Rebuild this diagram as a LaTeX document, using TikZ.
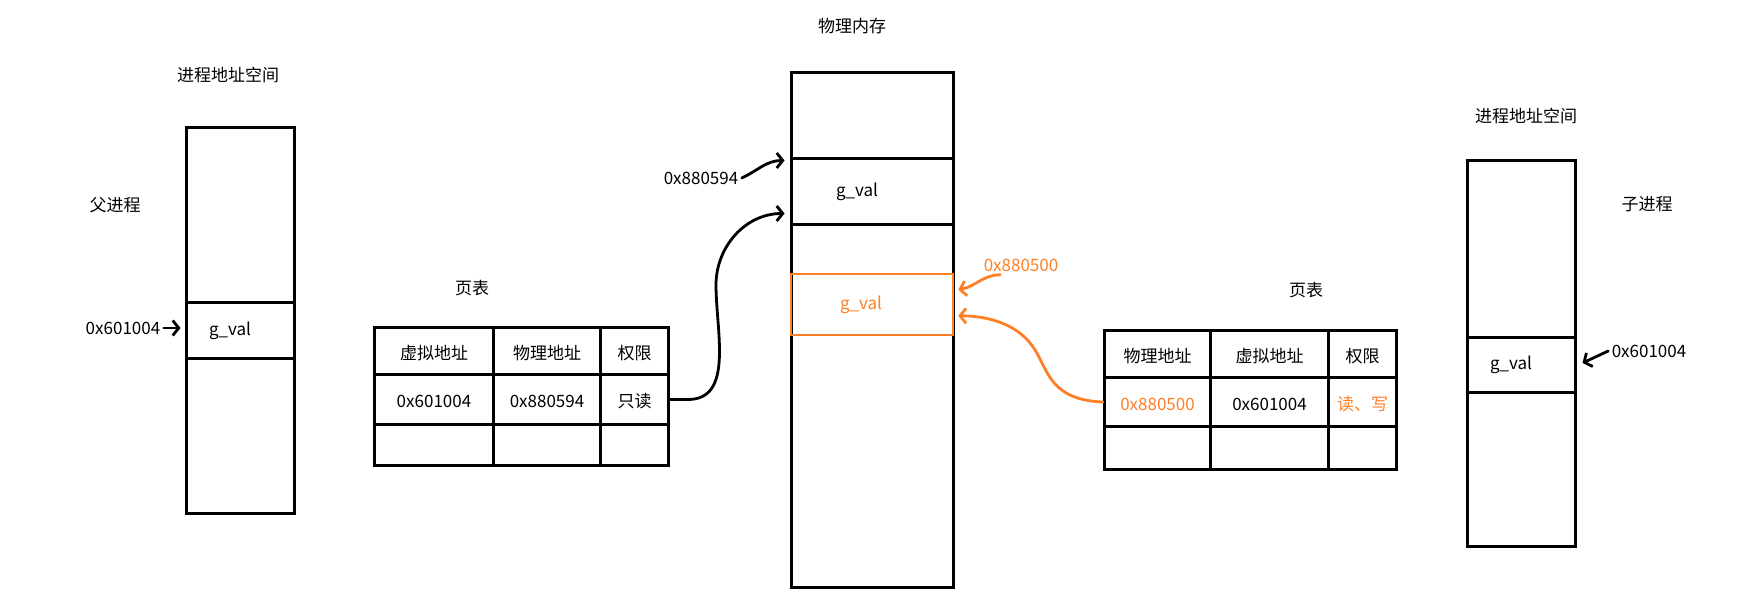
\documentclass[tikz,border=0pt]{standalone}
\usepackage{fontspec}
\setmainfont{Noto Sans CJK SC}
\usetikzlibrary{arrows.meta}
\definecolor{huang}{HTML}{FF7F27}
\tikzset{
  membox/.style={draw,line width=3pt,inner sep=0pt},
  tcell/.style={draw,line width=3pt,anchor=north west,inner sep=0pt},
  hand/.style={->,line width=2.8pt,line cap=round,line join=round}
}
\begin{document}
\begin{tikzpicture}[x=1pt,y=-1pt,>={Straight Barb[length=6pt,width=15pt]},font=\fontsize{17}{20}\selectfont]
\useasboundingbox (0,0) rectangle (1764,612);
% hai cai khung tien trinh + bo nho vat ly
\node[membox,minimum width=108,minimum height=385] (fu) at (240,320.5) {};
\node[membox,minimum width=108,minimum height=55] (fuval) at (240,330.5) {};
\node[membox,minimum width=108,minimum height=385] (zi) at (1521,353.5) {};
\node[membox,minimum width=108,minimum height=55] (zival) at (1521,364.5) {};
\node[membox,minimum width=162,minimum height=514] (wl) at (872,330) {};
\node[membox,minimum width=162,minimum height=66] (mg) at (872,192) {};
\node[membox,draw=huang,line width=2.5pt,minimum width=162,minimum height=61] (mo) at (872,304.5) {};
\node (fuvt) at ([xshift=-10pt]fuval.center) {g\_val};
\node (zivt) at ([xshift=-10pt]zival.center) {g\_val};
\node (mgt) at ([xshift=-15pt]mg.center) {g\_val};
\node[text=huang] (mot) at ([xshift=-11pt]mo.center) {g\_val};
% hai bang trang
\foreach \n/\x/\y/\w/\h/\t/\c in {
  lt-1-1/373/326/119/47/虚拟地址/black, lt-1-2/492/326/107/47/物理地址/black, lt-1-3/599/326/68/47/权限/black,
  lt-2-1/373/373/119/50/0x601004/black, lt-2-2/492/373/107/50/0x880594/black, lt-2-3/599/373/68/50/只读/black,
  lt-3-1/373/423/119/41//black, lt-3-2/492/423/107/41//black, lt-3-3/599/423/68/41//black,
  rt-1-1/1103/329/106/47/物理地址/black, rt-1-2/1209/329/118/47/虚拟地址/black, rt-1-3/1327/329/68/47/权限/black,
  rt-2-1/1103/376/106/49/0x880500/huang, rt-2-2/1209/376/118/49/0x601004/black, rt-2-3/1327/376/68/49/读、写/huang,
  rt-3-1/1103/425/106/43//black, rt-3-2/1209/425/118/43//black, rt-3-3/1327/425/68/43//black}
  {\node[tcell,minimum width=\w,minimum height=\h,text=\c,text height=17pt,text depth=1pt] (\n) at (\x,\y) {\t};}
% nhan
\foreach \n/\x/\y/\t in {t1/228/75/进程地址空间, t2/1526/116/进程地址空间, t3/852/26/物理内存,
  fj/115/205/父进程, zj/1647/204/子进程, yb1/472/288/页表, yb2/1306/290/页表,
  la/123/328/0x601004, ra/1649/351/0x601004, pa/701/178/0x880594}
  {\node (\n) at (\x,\y) {\t};}
\node[text=huang] (oa) at (1021,265) {0x880500};
% mui ten
\draw[hand] (la.east) -- ([xshift=-4pt]la.east -| fuval.west);
\draw[hand] (ra.west) -- ([xshift=6pt,yshift=-12pt]ra.west -| zival.east);
\draw[hand] (pa.east) to[out=25,in=180] ([xshift=-5pt,yshift=-3pt]mg.north west);
\draw[hand] (lt-2-3.east) -- ++(18,0) to[out=0,in=-90] (716,285) to[out=90,in=180] ([xshift=-5pt,yshift=13pt]mg.south west);
\draw[hand,huang] ([xshift=20pt]oa.south west) to[out=180,in=10] ([xshift=4pt,yshift=-17pt]mo.north east);
\draw[hand,huang] (rt-2-1.west) .. controls (1050,400) and (1048,370) .. (1035,350) .. controls (1020,325) and (990,316) .. ([xshift=4pt,yshift=-43pt]mo.north east);
\end{tikzpicture}
\end{document}
